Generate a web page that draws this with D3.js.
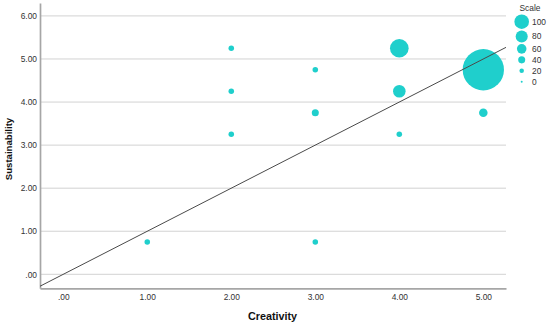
<!DOCTYPE html>
<html><head><meta charset="utf-8">
<script src="https://cdn.jsdelivr.net/npm/d3@7"></script>
<style>body{margin:0;background:#fff}svg{display:block}text{font-family:"Liberation Sans",Arial,sans-serif}</style>
</head><body>
<svg id="c" width="550" height="328"></svg>
<script>
// Data
const creativity     = [1,    2,    2,    2,    3,    3,    3,    4,    4,    4,    5,    5];
const sustainability = [0.75, 3.25, 4.25, 5.25, 0.75, 3.75, 4.75, 3.25, 4.25, 5.25, 3.75, 4.75];
const scaleValue     = [28,   28,   28,   28,   28,   40,   28,   28,   84,   132,  52,   312];
const xTicks = [0,1,2,3,4,5];
const yTicks = [0,1,2,3,4,5,6];
const legendValues = [100,80,60,40,20,0];
const fitLine = [[-0.277,-0.277],[5.27,5.27]];

const svg = d3.select("#c");
const color = "#1fcfcc";
const x = d3.scaleLinear().domain([-0.277,5.27]).range([40,506]);
const y = d3.scaleLinear().domain([-0.325,6.30]).range([288.3,3]);
const r = d3.scaleLinear().domain([0,100]).range([1,7.3]);
const fmt = d => d===0 ? ".00" : d3.format(".2f")(d);

// gridlines
svg.append("g").selectAll("line").data(yTicks).join("line")
  .attr("x1",x.range()[0]).attr("x2",x.range()[1])
  .attr("y1",d=>y(d)).attr("y2",d=>y(d))
  .attr("stroke","#d2d2d2").attr("stroke-width",1);

// axes
const ya = svg.append("g").attr("transform",`translate(${x.range()[0]},0)`)
  .call(d3.axisLeft(y).tickValues(yTicks).tickFormat(fmt).tickSize(0).tickPadding(3));
const xa = svg.append("g").attr("transform",`translate(0,${y.range()[0]})`)
  .call(d3.axisBottom(x).tickValues(xTicks).tickFormat(fmt).tickSize(0).tickPadding(6));
[ya,xa].forEach(g=>{
  g.select(".domain").attr("stroke","#a6a6a6").attr("stroke-width",1.7);
  g.selectAll("text").attr("font-size","8.4px").attr("fill","#333");
});

// points
const pts = creativity.map((c,i)=>({c, s:sustainability[i], v:scaleValue[i]}));
svg.append("g").selectAll("circle").data(pts).join("circle")
  .attr("cx",d=>x(d.c)).attr("cy",d=>y(d.s)).attr("r",d=>r(d.v))
  .attr("fill",color);

// reference line
svg.append("path").datum(fitLine)
  .attr("d",d3.line().x(d=>x(d[0])).y(d=>y(d[1])))
  .attr("stroke","#4a4a4a").attr("stroke-width",1).attr("fill","none");

// axis titles
svg.append("text").attr("x",272.5).attr("y",319.5).attr("text-anchor","middle")
  .attr("font-size","10.8px").attr("font-weight","bold").attr("fill","#111").text("Creativity");
svg.append("text").attr("transform","translate(12,149) rotate(-90)").attr("text-anchor","middle")
  .attr("font-size","9.6px").attr("font-weight","bold").attr("fill","#111").text("Sustainability");

// legend
const lg = svg.append("g");
lg.append("text").attr("x",530).attr("y",10.5).attr("text-anchor","middle")
  .attr("font-size","8.4px").attr("fill","#333").text("Scale");
let ly = 21.7; const lpos = [];
legendValues.forEach((v,i)=>{
  if(i>0){ ly += Math.max(11, r(legendValues[i-1]) + r(v) + 1.5); }
  lpos.push({v, y:ly});
});
lg.selectAll("circle").data(lpos).join("circle")
  .attr("cx",521.7).attr("cy",d=>d.y).attr("r",d=>r(d.v)).attr("fill",color);
lg.selectAll("text.l").data(lpos).join("text").attr("class","l")
  .attr("x",532).attr("y",d=>d.y).attr("dy","0.35em")
  .attr("font-size","8.4px").attr("fill","#333").text(d=>d.v);
</script>
</body></html>
